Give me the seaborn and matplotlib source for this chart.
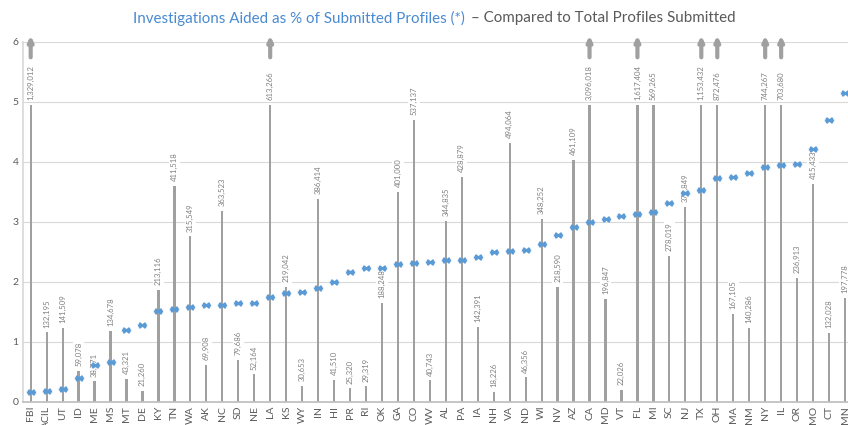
import numpy as np
import pandas as pd
import matplotlib.pyplot as plt
from matplotlib.path import Path
import seaborn as sns

# ---------------------------------------------
# DATA
# ---------------------------------------------
states = ["FBI", "ACIL", "UT", "ID", "ME", "MS", "MT", "DE", "KY", "TN", "WA", "AK", "NC",
          "SD", "NE", "LA", "KS", "WY", "IN", "HI", "PR", "RI", "OK", "GA", "CO", "WV",
          "AL", "PA", "IA", "NH", "VA", "ND", "WI", "NV", "AZ", "CA", "MD", "VT", "FL",
          "MI", "SC", "NJ", "TX", "OH", "MA", "NM", "NY", "IL", "OR", "MO", "CT", "MN"]

# investigations aided as % of submitted profiles
pct_aided = [0.17, 0.18, 0.22, 0.39, 0.61, 0.67, 1.20, 1.28, 1.51, 1.54, 1.58, 1.62, 1.61,
             1.64, 1.65, 1.74, 1.82, 1.83, 1.89, 1.99, 2.17, 2.23, 2.23, 2.30, 2.32, 2.33,
             2.36, 2.37, 2.41, 2.49, 2.52, 2.53, 2.62, 2.78, 2.91, 2.99, 3.04, 3.10, 3.13,
             3.16, 3.31, 3.47, 3.53, 3.72, 3.74, 3.81, 3.91, 3.95, 3.96, 4.21, 4.70, 5.14]

# total profiles submitted
profiles = [1329012, 132195, 141509, 59078, 38771, 134678, 43321, 21260, 213116, 411518,
            315549, 69908, 363523, 79686, 52164, 613266, 219042, 30653, 386414, 41510,
            25320, 29319, 188248, 401000, 537137, 40743, 344835, 428879, 142391, 18226,
            494064, 46356, 348252, 218590, 461109, 3096018, 196847, 22026, 1617404,
            569265, 278019, 371849, 1153432, 872476, 167105, 140286, 744267, 703680,
            236913, 415433, 132028, 197778]

# profiles per unit of the % axis (bars share the left axis)
PROFILES_PER_UNIT = 114500
BAR_CAP = 4.95       # bars taller than this get cut with an arrow on top
ARROW_FROM = 5.0

BLUE = "#5b9bd5"
BAR_GREY = "#a0a0a0"
TEXT_GREY = "#595959"

# ---------------------------------------------
# SETUP
# ---------------------------------------------
sns.set_theme(style="white")
plt.rcParams["font.family"] = ["Lato", "DejaVu Sans"]

df = pd.DataFrame({"state": states, "pct": pct_aided, "profiles": profiles})
df["bar_units"] = df["profiles"] / PROFILES_PER_UNIT
df["cut"] = df["bar_units"] > ARROW_FROM
df["bar_h"] = df["bar_units"].clip(upper=BAR_CAP)

fig = plt.figure(figsize=(8.48, 4.25), dpi=100)
ax = fig.add_axes([22.7 / 848, 1 - 401.7 / 425, (853 - 22.7) / 848, 360 / 425])

sns.barplot(data=df, x="state", y="bar_h", color=BAR_GREY, width=0.14,
            saturation=1, linewidth=0, ax=ax, zorder=2)

# value labels over the bars
for i, row in df.iterrows():
    top = BAR_CAP if row["bar_units"] > BAR_CAP else row["bar_h"]
    ax.text(i, top + 0.08, f"{row['profiles']:,}", rotation=90, ha="center",
            va="bottom", fontsize=5.6, color="#808080", zorder=3,
            bbox=dict(facecolor="white", edgecolor="none", pad=1.5))
    if row["cut"]:
        ax.annotate("", xy=(i, 6.1), xytext=(i, 5.74), annotation_clip=False,
                    arrowprops=dict(arrowstyle="-|>,head_length=0.25,head_width=0.12",
                                    lw=3.0, color=BAR_GREY, shrinkA=0, shrinkB=0),
                    zorder=3)

# Excel-like star marker
star = Path([(-1, 0), (1, 0), (-0.7, -0.55), (0.7, 0.55), (-0.7, 0.55), (0.7, -0.55)],
            [Path.MOVETO, Path.LINETO, Path.MOVETO, Path.LINETO, Path.MOVETO, Path.LINETO])
sns.scatterplot(data=df, x="state", y="pct", marker=star, s=45, color=BLUE,
                edgecolor=BLUE, linewidth=1.6, ax=ax, zorder=4, legend=False)

ax.set_xlim(-0.5, 51.5)
ax.set_ylim(0, 6)
ax.set_yticks(range(0, 7))
ax.set_xlabel("")
ax.set_ylabel("")
ax.yaxis.grid(True, color="#d9d9d9", linewidth=0.8)
ax.set_axisbelow(True)
for s in ["top", "right"]:
    ax.spines[s].set_visible(False)
ax.spines["left"].set_color("#d9d9d9")
ax.spines["bottom"].set_color("#bfbfbf")
ax.tick_params(axis="both", length=0, labelsize=7.5, labelcolor=TEXT_GREY, pad=3)
ax.tick_params(axis="x", rotation=90)

# two-colour title
fig.text(465 / 848, 1 - 18 / 425, "Investigations Aided as % of Submitted Profiles (*)",
         ha="right", va="center", fontsize=10.9, color="#4a8ad0")
fig.text(471 / 848, 1 - 18 / 425, "– Compared to Total Profiles Submitted",
         ha="left", va="center", fontsize=10.9, color=TEXT_GREY)

plt.savefig("out.png", dpi=100)
plt.close()
